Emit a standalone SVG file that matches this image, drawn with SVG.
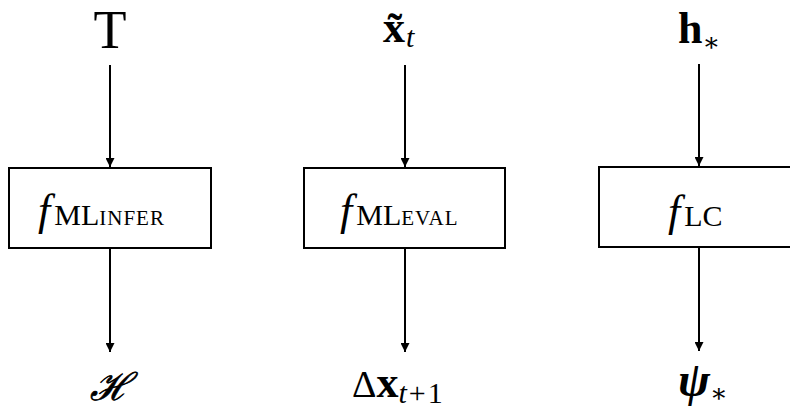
<svg xmlns="http://www.w3.org/2000/svg" width="790" height="408" viewBox="0 0 790 408">
<style>
.box{fill:#fff;stroke:#000;stroke-width:2}
.edge{stroke:#000;stroke-width:2;fill:none}
text{font-family:"Liberation Serif","DejaVu Serif",serif;fill:#000}
.it{font-style:italic}
.bf{font-weight:bold}
.sc{font-size:21px;letter-spacing:1px}
</style>
<defs>
<marker id="ah" viewBox="0 0 10 10" refX="10" refY="5" markerWidth="4.5" markerHeight="4.5" orient="auto" markerUnits="strokeWidth">
<path d="M0,0 L10,5 L0,10 z" fill="#000"/>
</marker>
</defs>
<rect width="790" height="408" fill="#fff"/>
<g id="connectors">
<line class="edge" x1="110" y1="65" x2="110" y2="167" marker-end="url(#ah)"/>
<line class="edge" x1="110" y1="248" x2="110" y2="352" marker-end="url(#ah)"/>
<line class="edge" x1="405" y1="65" x2="405" y2="167" marker-end="url(#ah)"/>
<line class="edge" x1="405" y1="248" x2="405" y2="352" marker-end="url(#ah)"/>
<line class="edge" x1="699" y1="64" x2="699" y2="166" marker-end="url(#ah)"/>
<line class="edge" x1="699" y1="247" x2="699" y2="351" marker-end="url(#ah)"/>
</g>
<g id="in-T"><text x="110" y="48" font-size="54" text-anchor="middle">T</text></g>
<g id="in-xt"><text x="383" y="42" font-size="44" class="bf">x̃<tspan class="it" font-weight="normal" font-size="30" dx="1" dy="5">t</tspan></text></g>
<g id="in-h"><text x="678" y="43" font-size="44" class="bf">h<tspan font-weight="normal" font-size="26" dy="8">∗</tspan></text></g>
<g id="f-ml-infer">
<rect class="box" x="9" y="168" width="202" height="80"/>
<text x="38" y="225" font-size="44"><tspan class="it">f</tspan><tspan font-size="30" dx="4">ML</tspan><tspan class="sc">INFER</tspan></text>
</g>
<g id="f-ml-eval">
<rect class="box" x="304" y="168" width="201" height="80"/>
<text x="340" y="225" font-size="44"><tspan class="it">f</tspan><tspan font-size="30" dx="4">ML</tspan><tspan class="sc">EVAL</tspan></text>
</g>
<g id="f-lc">
<rect class="box" x="599" y="167" width="202" height="80"/>
<text x="668" y="226" font-size="44"><tspan class="it">f</tspan><tspan font-size="30" dx="4">LC</tspan></text>
</g>
<g id="out-H"><text x="110" y="400" font-size="38" text-anchor="middle" font-family="DejaVu Serif" class="it" stroke="#000" stroke-width="0.7">ℋ</text></g>
<g id="out-dx"><text x="352" y="397" font-size="38">Δ<tspan class="bf" font-size="44">x</tspan><tspan class="it" font-size="30" dy="6">t</tspan><tspan font-size="30" dx="2">+</tspan><tspan font-size="30" dx="2">1</tspan></text></g>
<g id="out-psi"><text x="678" y="396" font-size="48" class="bf it">ψ<tspan font-weight="normal" font-style="normal" font-size="26" dy="6">∗</tspan></text></g>
</svg>
